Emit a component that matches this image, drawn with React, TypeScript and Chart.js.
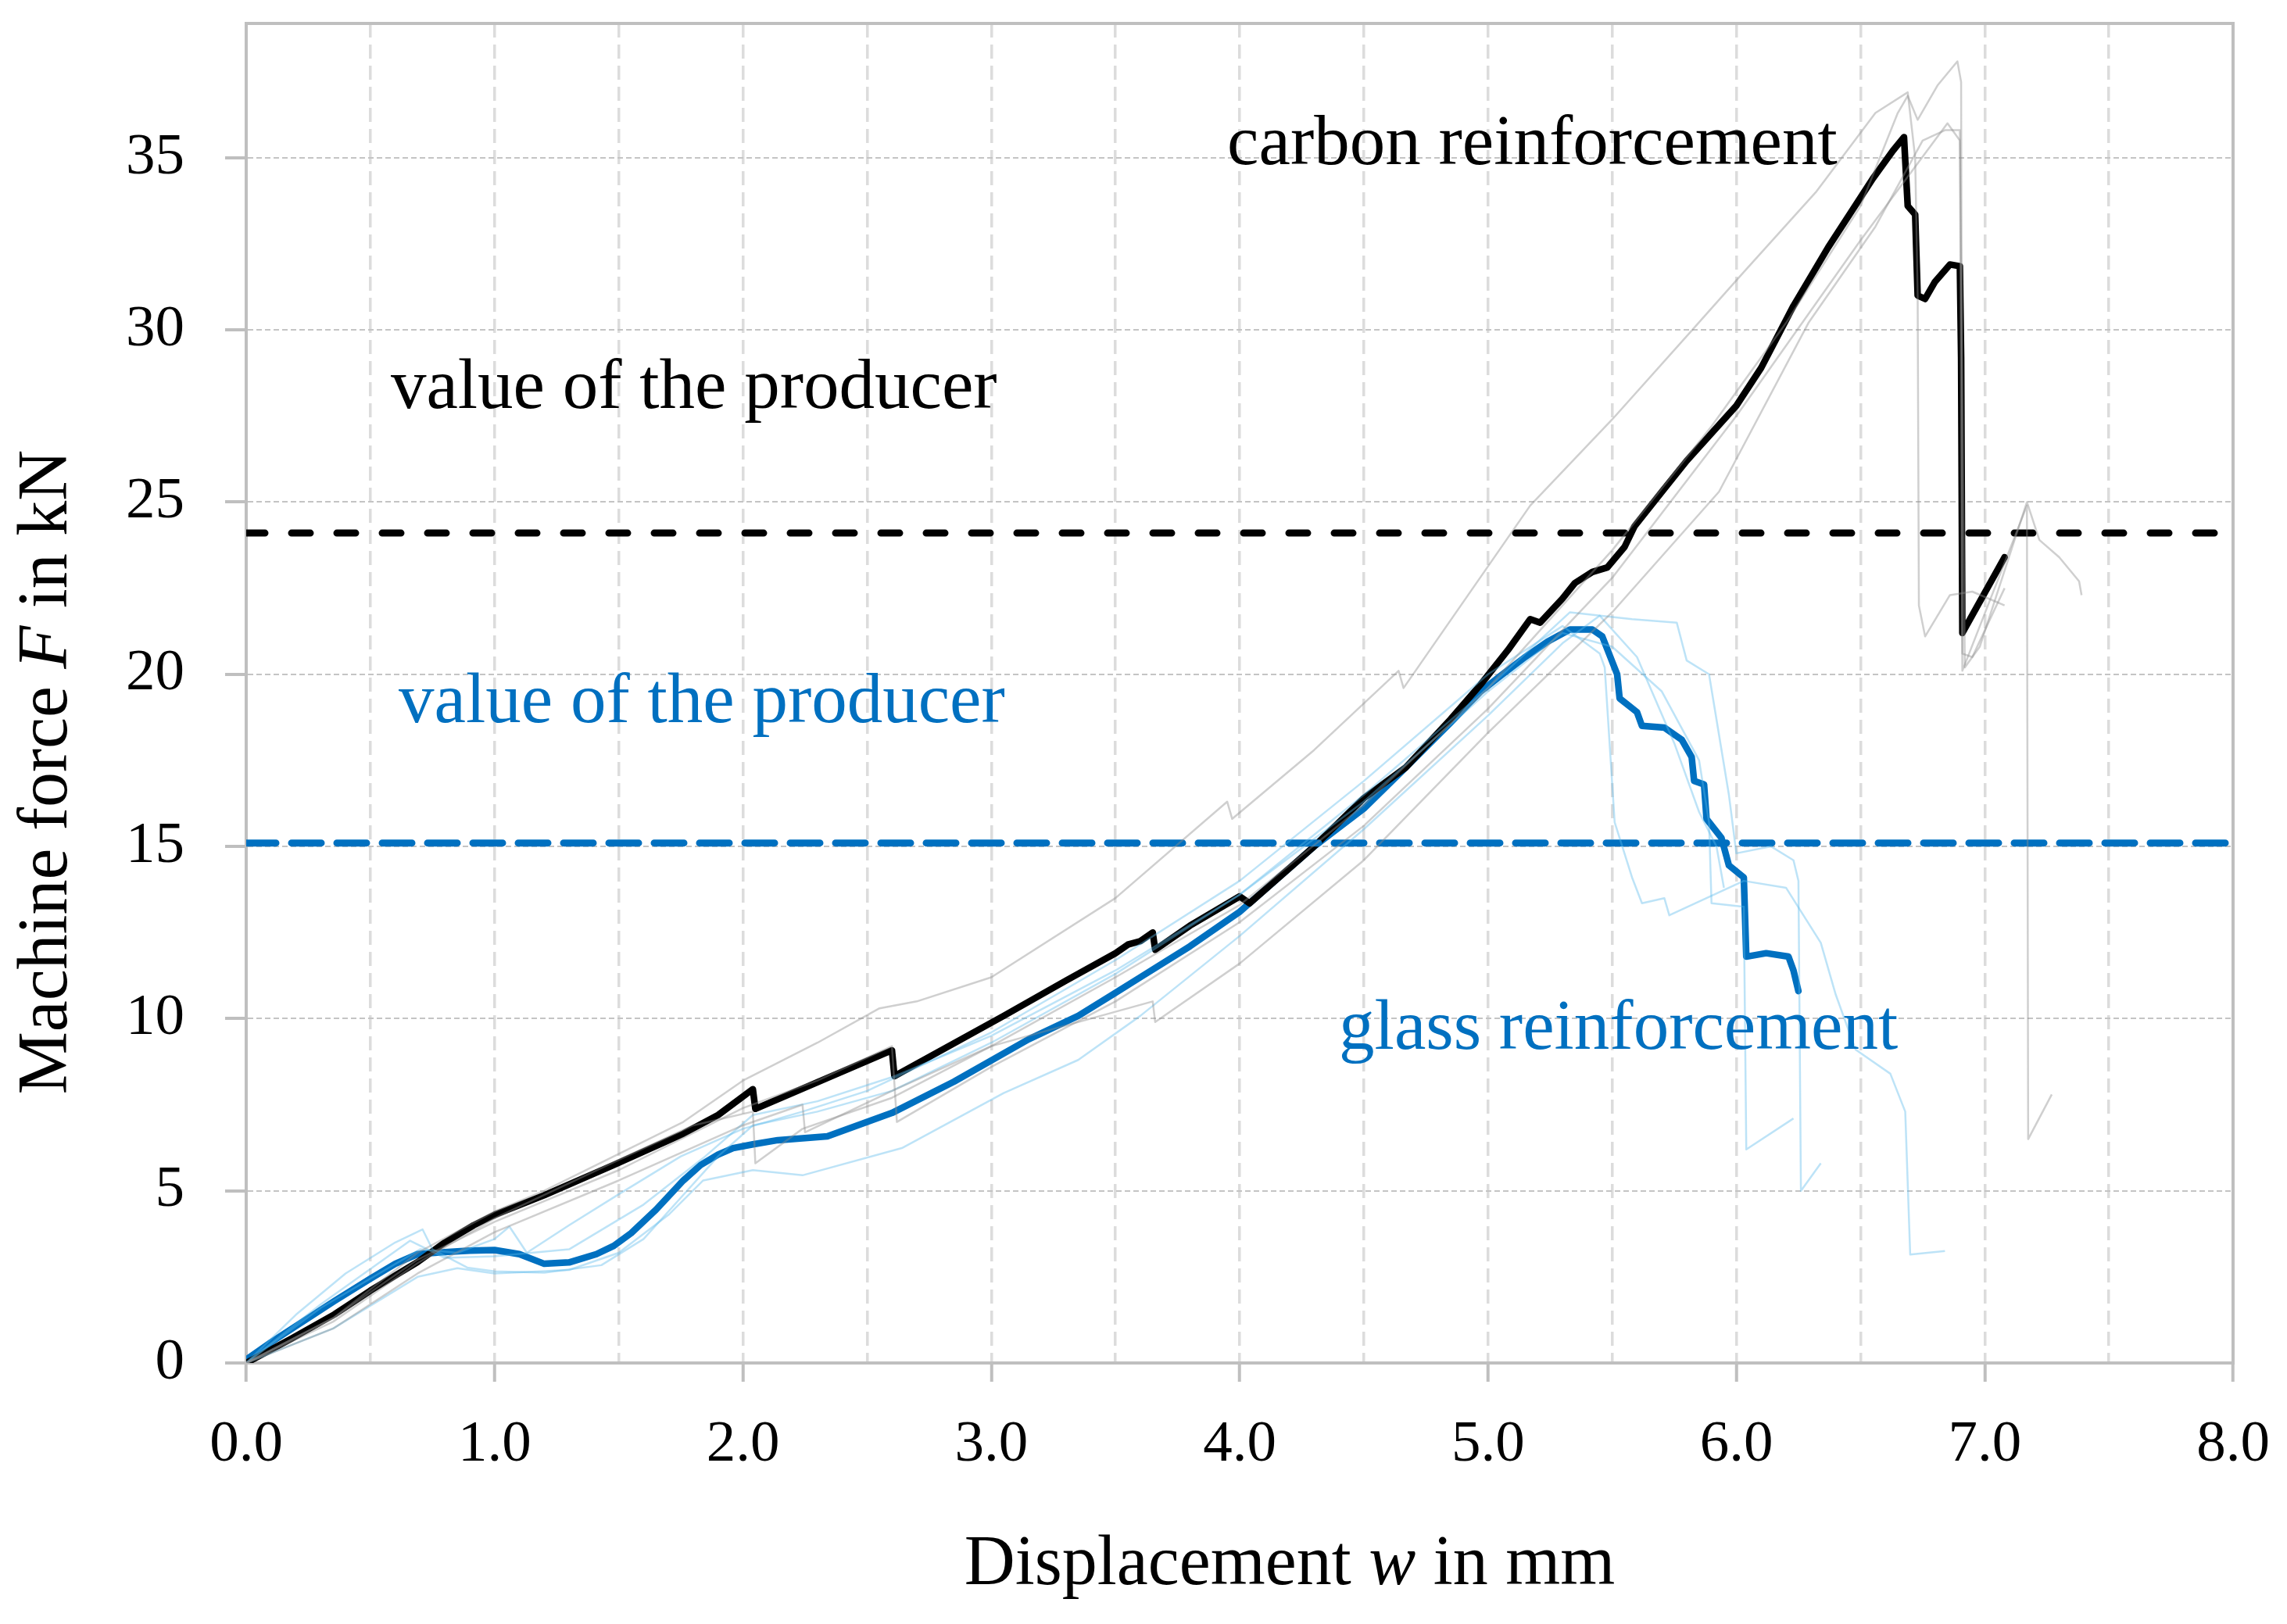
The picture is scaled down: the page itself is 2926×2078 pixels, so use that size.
import React, { useEffect, useRef } from 'react';
import { Chart, registerables } from 'chart.js';

Chart.register(...registerables);

// ---------- axis ranges / ticks ----------
const xMin = 0;
const xMax = 8;
const xGridStep = 0.5;
const yMin = 0;
const yMax = 38.9;
const yStep = 5;

// ---------- producer values (kN) ----------
const producerCarbon = 24.1;
const producerGlass = 15.1;

// ---------- carbon reinforcement, representative curve ----------
const carbonMeanX = [0, 0.18, 0.355, 0.5, 0.69, 0.8, 0.916, 1.0, 1.2, 1.48, 1.76, 1.9, 2.04, 2.05, 2.6, 2.61, 3.05, 3.3, 3.5, 3.55, 3.6, 3.65, 3.66, 3.8, 4.0, 4.04, 4.3, 4.5, 4.67, 4.85, 4.97, 5.08, 5.17, 5.21, 5.3, 5.35, 5.42, 5.48, 5.55, 5.59, 5.7, 5.8, 5.9, 6.0, 6.1, 6.23, 6.37, 6.55, 6.63, 6.675, 6.69, 6.72, 6.73, 6.76, 6.8, 6.86, 6.9, 6.905, 6.91, 7.08];
const carbonMeanY = [0, 0.7, 1.41, 2.1, 2.93, 3.5, 4.0, 4.3, 4.87, 5.75, 6.66, 7.2, 7.95, 7.38, 9.08, 8.33, 10.08, 11.1, 11.9, 12.15, 12.25, 12.5, 12.0, 12.7, 13.55, 13.35, 15.0, 16.4, 17.3, 18.7, 19.7, 20.7, 21.6, 21.5, 22.2, 22.65, 22.97, 23.1, 23.7, 24.3, 25.3, 26.2, 27.0, 27.8, 28.9, 30.7, 32.4, 34.4, 35.2, 35.6, 33.6, 33.35, 31.0, 30.9, 31.4, 31.9, 31.85, 29.2, 21.2, 23.4];

// ---------- glass reinforcement, representative curve ----------
const glassMeanX = [0, 0.1, 0.355, 0.5, 0.6, 0.69, 0.8, 0.9, 1.0, 1.1, 1.2, 1.3, 1.41, 1.48, 1.55, 1.65, 1.76, 1.83, 1.9, 1.96, 2.04, 2.14, 2.34, 2.6, 2.85, 3.15, 3.35, 3.5, 3.6, 3.8, 4.0, 4.3, 4.5, 4.67, 4.85, 4.97, 5.05, 5.15, 5.24, 5.33, 5.42, 5.46, 5.52, 5.53, 5.6, 5.62, 5.71, 5.78, 5.82, 5.83, 5.87, 5.88, 5.94, 5.97, 6.03, 6.04, 6.12, 6.21, 6.23, 6.25];
const glassMeanY = [0.1, 0.6, 1.8, 2.45, 2.88, 3.16, 3.22, 3.26, 3.28, 3.16, 2.88, 2.92, 3.16, 3.4, 3.77, 4.45, 5.3, 5.75, 6.05, 6.24, 6.35, 6.47, 6.58, 7.26, 8.17, 9.4, 10.08, 10.75, 11.2, 12.1, 13.1, 15.0, 16.1, 17.3, 18.6, 19.5, 19.95, 20.5, 20.95, 21.3, 21.3, 21.1, 20.0, 19.3, 18.9, 18.5, 18.45, 18.1, 17.6, 16.9, 16.8, 15.8, 15.25, 14.45, 14.1, 11.8, 11.9, 11.8, 11.4, 10.8];

// ---------- carbon specimens (faint grey) ----------
const carbonSpec1X = [0, 0.35, 0.69, 1.0, 1.2, 1.48, 1.76, 2.0, 2.3, 2.55, 2.7, 3.0, 3.5, 3.95, 3.97, 4.3, 4.64, 4.66, 5.17, 5.5, 5.81, 6.02, 6.32, 6.56, 6.69, 6.72, 6.73, 6.735, 6.76, 6.86, 6.95, 7.08];
const carbonSpec1Y = [0, 1.3, 3.2, 4.4, 5.0, 6.0, 7.0, 8.2, 9.3, 10.3, 10.5, 11.2, 13.5, 16.3, 15.8, 17.8, 20.1, 19.6, 24.9, 27.4, 29.9, 31.6, 34.0, 36.3, 36.9, 35.0, 31.0, 22.0, 21.1, 22.3, 22.4, 22.0];
const carbonSpec2X = [0, 0.35, 0.69, 1.0, 1.5, 1.8, 2.04, 2.05, 2.24, 2.6, 3.0, 3.5, 4.0, 4.5, 5.0, 5.5, 5.9, 6.2, 6.5, 6.65, 6.69, 6.73, 6.81, 6.89, 6.905, 6.91, 6.95, 7.08];
const carbonSpec2Y = [0, 1.2, 2.9, 4.2, 5.9, 6.9, 7.3, 5.8, 6.8, 7.7, 9.2, 11.2, 13.3, 16.2, 19.6, 23.6, 27.2, 30.2, 33.6, 36.3, 36.8, 36.1, 37.1, 37.8, 37.2, 20.6, 20.5, 22.5];
const carbonSpec3X = [0, 0.35, 0.69, 1.0, 1.5, 2.0, 2.24, 2.25, 2.6, 3.0, 3.65, 3.66, 4.0, 4.5, 5.0, 5.5, 5.93, 6.29, 6.56, 6.75, 6.84, 6.9, 6.92, 6.98, 7.17, 7.22, 7.3, 7.38, 7.39];
const carbonSpec3Y = [0, 1.0, 2.6, 3.8, 5.3, 6.9, 7.5, 6.7, 7.9, 9.2, 10.5, 9.9, 11.6, 14.6, 18.3, 21.8, 25.3, 30.2, 33.0, 35.5, 35.8, 35.8, 20.2, 20.8, 25.0, 23.9, 23.4, 22.7, 22.3];
const carbonSpec4X = [0, 0.35, 0.69, 1.0, 1.5, 2.0, 2.3, 2.6, 2.62, 3.0, 3.5, 4.0, 4.5, 5.0, 5.5, 6.0, 6.5, 6.85, 6.9, 6.91, 7.17, 7.175, 7.27];
const carbonSpec4Y = [0, 1.3, 3.0, 4.1, 5.6, 7.4, 8.2, 9.2, 7.0, 8.6, 10.5, 12.8, 15.6, 19.0, 22.8, 27.5, 32.6, 36.0, 35.5, 20.1, 24.9, 6.5, 7.8];

// ---------- glass specimens (faint blue) ----------
const glassSpec1X = [0, 0.2, 0.4, 0.6, 0.71, 0.75, 0.89, 1.0, 1.2, 1.43, 1.6, 1.75, 1.9, 2.04, 2.3, 2.6, 3.0, 3.5, 4.0, 4.5, 5.0, 5.33, 5.58, 5.76, 5.8, 5.89, 5.97, 6.0, 6.14, 6.23, 6.25, 6.26, 6.34];
const glassSpec1Y = [0, 1.4, 2.6, 3.5, 3.88, 3.3, 2.77, 2.66, 2.62, 2.84, 3.6, 4.8, 6.0, 6.9, 7.3, 7.9, 9.3, 11.3, 13.6, 16.5, 19.6, 21.8, 21.6, 21.5, 20.4, 20.0, 16.5, 14.8, 15.0, 14.6, 14.0, 5.0, 5.8];
const glassSpec2X = [0, 0.3, 0.7, 0.85, 1.0, 1.06, 1.13, 1.3, 1.5, 1.75, 2.0, 2.24, 2.5, 3.0, 3.5, 4.0, 4.5, 5.0, 5.3, 5.45, 5.47, 5.51, 5.58, 5.62, 5.71, 5.73, 6.03, 6.2, 6.34, 6.4, 6.48, 6.62, 6.68, 6.7, 6.84];
const glassSpec2Y = [0, 1.6, 3.3, 3.2, 3.6, 3.96, 3.2, 4.0, 4.9, 6.0, 6.8, 7.3, 7.9, 9.6, 11.7, 14.0, 16.9, 20.0, 21.4, 20.6, 20.2, 15.7, 14.1, 13.35, 13.5, 13.0, 14.0, 13.8, 12.2, 10.7, 9.1, 8.4, 7.3, 3.15, 3.25];
const glassSpec3X = [0, 0.3, 0.66, 0.8, 1.0, 1.3, 1.6, 1.84, 2.04, 2.3, 2.6, 3.0, 3.5, 4.0, 4.5, 5.0, 5.3, 5.5, 5.7, 5.85, 5.89, 5.9, 6.03, 6.04, 6.23];
const glassSpec3Y = [0, 1.7, 3.55, 3.05, 3.1, 3.3, 4.6, 5.95, 7.2, 7.6, 8.3, 9.5, 11.4, 13.6, 16.3, 19.5, 21.2, 20.8, 19.5, 17.5, 15.7, 13.35, 13.25, 6.2, 7.1];
const glassSpec4X = [0, 0.35, 0.69, 0.85, 1.0, 1.3, 1.5, 1.7, 1.84, 2.04, 2.24, 2.64, 3.05, 3.35, 3.6, 4.0, 4.5, 5.0, 5.3, 5.45, 5.6, 5.75, 5.85, 5.92, 5.95];
const glassSpec4Y = [0, 1.0, 2.5, 2.75, 2.6, 2.7, 3.2, 4.3, 5.3, 5.6, 5.45, 6.24, 7.84, 8.8, 10.08, 12.4, 15.5, 18.8, 20.9, 21.7, 20.5, 18.0, 16.0, 15.0, 13.8];

// ---------- texts ----------
const carbonLabel = 'carbon reinforcement';
const glassLabel = 'glass reinforcement';
const producerLabel = 'value of the producer';
const xTitleParts = [{ t: 'Displacement ' }, { t: 'w', italic: true }, { t: ' in mm' }];
const yTitleParts = [{ t: 'Machine force ' }, { t: 'F', italic: true }, { t: ' in kN' }];

const FONT = "'Liberation Serif', 'Times New Roman', serif";
const BLUE = '#0070c0';
const GREY_SPEC = 'rgba(140,140,140,0.42)';
const BLUE_SPEC = 'rgba(90,185,235,0.4)';
const AXIS_GREY = '#bfbfbf';

const pts = (xs: number[], ys: number[]) => xs.map((x, i) => ({ x, y: ys[i] }));

type Part = { t: string; italic?: boolean };

function drawRich(ctx: CanvasRenderingContext2D, parts: Part[], size: number, color: string, x: number, y: number, align: 'left' | 'center') {
  const fontFor = (p: Part) => `${p.italic ? 'italic ' : ''}${size}px ${FONT}`;
  let total = 0;
  for (const p of parts) {
    ctx.font = fontFor(p);
    total += ctx.measureText(p.t).width;
  }
  let cx = align === 'center' ? x - total / 2 : x;
  ctx.fillStyle = color;
  ctx.textBaseline = 'alphabetic';
  ctx.textAlign = 'left';
  for (const p of parts) {
    ctx.font = fontFor(p);
    ctx.fillText(p.t, cx, y);
    cx += ctx.measureText(p.t).width;
  }
}

const framePlugin = {
  id: 'frame',
  beforeDatasetsDraw(chart: any) {
    const { ctx, chartArea: a } = chart;
    ctx.save();
    ctx.strokeStyle = AXIS_GREY;
    ctx.lineWidth = 4;
    ctx.strokeRect(a.left, a.top, a.right - a.left, a.bottom - a.top);
    ctx.restore();
  },
};

const textPlugin = {
  id: 'texts',
  afterDatasetsDraw(chart: any) {
    const { ctx, chartArea: a } = chart;
    const sx = chart.scales.x;
    const sy = chart.scales.y;
    ctx.save();
    const size = 91;
    drawRich(ctx, [{ t: carbonLabel }], size, '#000', sx.getPixelForValue(3.95), sy.getPixelForValue(34.82), 'left');
    drawRich(ctx, [{ t: producerLabel }], size, '#000', sx.getPixelForValue(0.582), sy.getPixelForValue(27.74), 'left');
    drawRich(ctx, [{ t: producerLabel }], size, BLUE, sx.getPixelForValue(0.614), sy.getPixelForValue(18.6), 'left');
    drawRich(ctx, [{ t: glassLabel }], size, BLUE, sx.getPixelForValue(4.4), sy.getPixelForValue(9.13), 'left');

    // axis titles
    drawRich(ctx, xTitleParts, 90, '#000', a.left + (a.right - a.left) / 2 + 64, a.bottom + 283, 'center');
    ctx.translate(a.left - 230, a.top + (a.bottom - a.top) / 2 + 101);
    ctx.rotate(-Math.PI / 2);
    drawRich(ctx, yTitleParts, 90, '#000', 0, 0, 'center');
    ctx.restore();
  },
};

export default function App() {
  const canvasRef = useRef<HTMLCanvasElement | null>(null);

  useEffect(() => {
    document.body.style.margin = '0';
    const canvas = canvasRef.current;
    if (!canvas) return;

    const spec = (xs: number[], ys: number[], color: string) => ({
      data: pts(xs, ys),
      borderColor: color,
      borderWidth: 2.5,
      showLine: true,
      pointRadius: 0,
      fill: false,
      borderJoinStyle: 'round',
    });

    const datasets: any[] = [
      spec(carbonSpec1X, carbonSpec1Y, GREY_SPEC),
      spec(carbonSpec2X, carbonSpec2Y, GREY_SPEC),
      spec(carbonSpec3X, carbonSpec3Y, GREY_SPEC),
      spec(carbonSpec4X, carbonSpec4Y, GREY_SPEC),
      spec(glassSpec1X, glassSpec1Y, BLUE_SPEC),
      spec(glassSpec2X, glassSpec2Y, BLUE_SPEC),
      spec(glassSpec3X, glassSpec3Y, BLUE_SPEC),
      spec(glassSpec4X, glassSpec4Y, BLUE_SPEC),
      {
        data: [{ x: xMin, y: producerCarbon }, { x: xMax, y: producerCarbon }],
        borderColor: '#000',
        borderWidth: 9,
        borderDash: [24, 34],
        borderCapStyle: 'round',
        showLine: true,
        pointRadius: 0,
      },
      {
        data: [{ x: xMin, y: producerGlass }, { x: xMax, y: producerGlass }],
        borderColor: BLUE,
        borderWidth: 9,
        borderDash: [38, 20],
        borderCapStyle: 'round',
        showLine: true,
        pointRadius: 0,
      },
      {
        data: pts(carbonMeanX, carbonMeanY),
        borderColor: '#000',
        borderWidth: 8.5,
        borderJoinStyle: 'round',
        borderCapStyle: 'round',
        showLine: true,
        pointRadius: 0,
      },
      {
        data: pts(glassMeanX, glassMeanY),
        borderColor: BLUE,
        borderWidth: 8.5,
        borderJoinStyle: 'round',
        borderCapStyle: 'round',
        showLine: true,
        pointRadius: 0,
      },
    ];

    const chart = new Chart(canvas, {
      type: 'scatter',
      data: { datasets },
      options: {
        animation: false,
        responsive: true,
        maintainAspectRatio: false,
        devicePixelRatio: 1,
        layout: { padding: { left: 0, right: 69, top: 30, bottom: 0 } },
        plugins: { legend: { display: false }, tooltip: { enabled: false } },
        elements: { line: { tension: 0 }, point: { radius: 0 } },
        scales: {
          x: {
            type: 'linear',
            min: xMin,
            max: xMax,
            afterFit: (s: any) => {
              s.height = 334;
              s.paddingLeft = 0;
              s.paddingRight = 0;
            },
            ticks: {
              stepSize: xGridStep,
              autoSkip: false,
              maxRotation: 0,
              minRotation: 0,
              includeBounds: false,
              padding: 36,
              color: '#000',
              font: { family: FONT, size: 75 },
              callback: (v: any) => (Math.abs(v - Math.round(v)) < 1e-6 ? Number(v).toFixed(1) : ''),
            },
            grid: {
              color: '#dcdcdc',
              lineWidth: 3.5,
              tickLength: 24,
              tickWidth: 4,
              tickColor: (c: any) => (c.tick && Math.abs(c.tick.value - Math.round(c.tick.value)) < 1e-6 ? AXIS_GREY : 'rgba(0,0,0,0)'),
            },
            border: { color: AXIS_GREY, width: 4, dash: [18, 9] },
          },
          y: {
            type: 'linear',
            min: yMin,
            max: yMax,
            afterFit: (s: any) => {
              s.width = 315;
              s.paddingTop = 0;
              s.paddingBottom = 0;
            },
            ticks: {
              stepSize: yStep,
              includeBounds: false,
              padding: 52,
              color: '#000',
              font: { family: FONT, size: 75 },
            },
            grid: {
              color: '#c4c4c4',
              lineWidth: 2,
              tickLength: 27,
              tickWidth: 4,
              tickColor: AXIS_GREY,
            },
            border: { color: AXIS_GREY, width: 4, dash: [7, 4] },
          },
        },
      },
      plugins: [framePlugin, textPlugin],
    } as any);

    return () => chart.destroy();
  }, []);

  return (
    <div style={{ width: 2926, height: 2078, position: 'relative', background: '#fff' }}>
      <canvas ref={canvasRef} />
    </div>
  );
}
